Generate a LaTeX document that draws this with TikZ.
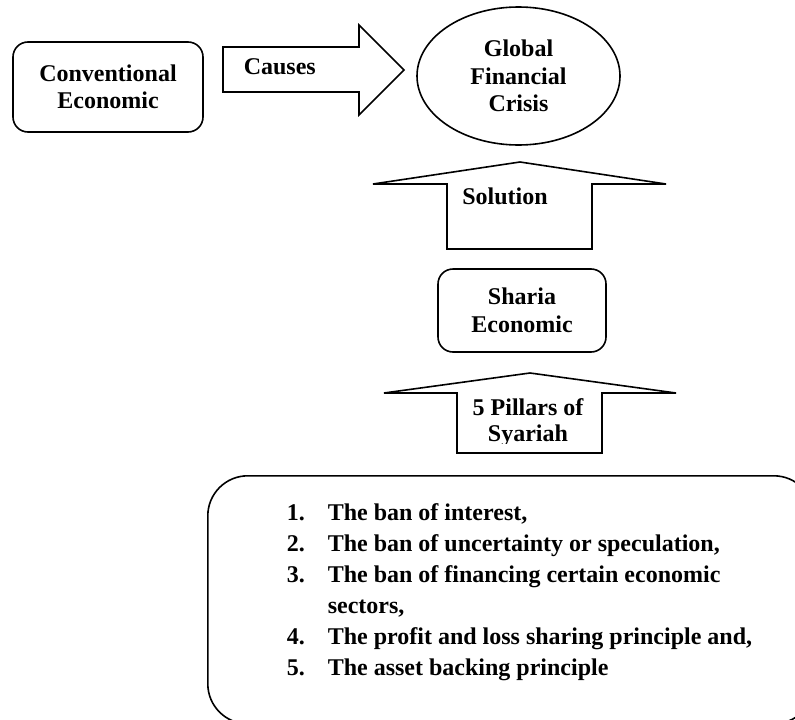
\documentclass[tikz,border=0pt]{standalone}
\usepackage{fontspec}
\setmainfont{Liberation Serif}
\usetikzlibrary{shapes.geometric}
\begin{document}
\begin{tikzpicture}[x=1pt,y=-1pt, line width=1.6pt, line join=miter,
  lbl/.style={font=\fontsize{24}{27.5}\selectfont\bfseries, align=center, inner sep=0pt},
  rbox/.style={draw, rounded corners=15pt, inner sep=0pt, lbl},
  barrow/.style={draw, fill=white, line width=1.6pt}]
\useasboundingbox (0,0) rectangle (795,720);
\clip (0,0) rectangle (795,720);

% Conventional Economic
\node[rbox, minimum width=190pt, minimum height=90pt] (conv) at (108,87) {Conventional\\Economic};

% Global Financial Crisis
\node[draw, ellipse, minimum width=203pt, minimum height=138pt, lbl] (gfc) at (518.5,76) {Global\\Financial\\Crisis};

% Causes arrow
\draw[barrow] (223,47) -- (359,47) -- (359,25) -- (404,70) -- (359,115) -- (359,92) -- (223,92) -- cycle;
\node[lbl, anchor=base west] (causes) at (243,74) {Causes};

% Solution arrow
\draw[barrow] (447,249) -- (447,184) -- (373,184) -- (520,162) -- (666,184) -- (592,184) -- (592,249) -- cycle;
\node[lbl, anchor=base] (sol) at (505,204) {Solution};

% Sharia Economic
\node[rbox, minimum width=168pt, minimum height=83pt] (sharia) at (522,310.5) {Sharia\\Economic};

% 5 Pillars arrow
\draw[barrow] (457,453) -- (457,393) -- (384,393) -- (530,373) -- (676,393) -- (602,393) -- (602,453) -- cycle;
\begin{scope}
  \clip (457,393) rectangle (602,443.5);
  \node[inner sep=0pt, anchor=base, font=\fontsize{24}{26.5}\selectfont\bfseries] (pil) at (528,415)
    {\begin{tabular}[t]{@{}c@{}}5 Pillars of\\Syariah\end{tabular}};
\end{scope}

% Pillars list box
\node[draw, rounded corners=40pt, minimum width=606pt, minimum height=248pt, anchor=north west, inner sep=0pt] (pbox) at (207,475) {};
\node[anchor=base west, inner sep=0pt, font=\fontsize{24}{31}\selectfont\bfseries] (list) at (286,520)
  {\begin{tabular}[t]{@{}p{41pt}@{}l@{}}
   1. & The ban of interest,\\
   2. & The ban of uncertainty or speculation,\\
   3. & The ban of financing certain economic\\
      & sectors,\\
   4. & The profit and loss sharing principle and,\\
   5. & The asset backing principle
   \end{tabular}};
\end{tikzpicture}
\end{document}
